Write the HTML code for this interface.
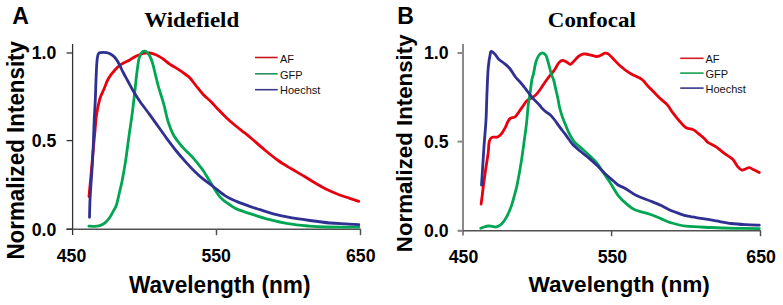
<!DOCTYPE html>
<html><head><meta charset="utf-8"><style>
html,body{margin:0;padding:0;background:#fff;}
body{width:783px;height:305px;overflow:hidden;}
svg{display:block;}
text{font-family:"Liberation Sans",sans-serif;fill:#000;}
.tick{font-weight:bold;font-size:17.7px;}
.axt{font-weight:bold;font-size:23px;}
.leg{font-size:11px;fill:#111;}
.title{font-family:"Liberation Serif",serif;font-weight:bold;font-size:22px;}
.let{font-weight:bold;font-size:23px;}
</style></head><body>
<svg width="783" height="305" viewBox="0 0 783 305">
<rect width="783" height="305" fill="#fff"/>
<line x1="72.6" y1="44" x2="72.6" y2="235" stroke="#333" stroke-width="1.3"/>
<line x1="66.5" y1="229.2" x2="360.8" y2="229.2" stroke="#505050" stroke-width="1.5"/>
<line x1="66.6" y1="53" x2="72.6" y2="53" stroke="#333" stroke-width="1.3"/>
<line x1="66.6" y1="140.6" x2="72.6" y2="140.6" stroke="#333" stroke-width="1.3"/>
<line x1="66.6" y1="229.2" x2="72.6" y2="229.2" stroke="#333" stroke-width="1.3"/>
<line x1="216.5" y1="229.2" x2="216.5" y2="235.2" stroke="#505050" stroke-width="1.5"/>
<line x1="360.5" y1="229.2" x2="360.5" y2="235.2" stroke="#505050" stroke-width="1.5"/>
<path d="M89.00,196.50 C89.33,192.92 90.30,182.75 91.00,175.00 C91.70,167.25 92.57,157.00 93.20,150.00 C93.83,143.00 94.25,138.83 94.80,133.00 C95.35,127.17 95.67,120.67 96.50,115.00 C97.33,109.33 98.55,103.33 99.80,99.00 C101.05,94.67 102.60,92.33 104.00,89.00 C105.40,85.67 106.38,82.17 108.20,79.00 C110.02,75.83 112.68,72.48 114.90,70.00 C117.12,67.52 119.02,65.78 121.50,64.10 C123.98,62.42 127.32,61.25 129.80,59.90 C132.28,58.55 134.18,57.07 136.40,56.00 C138.62,54.93 140.88,54.00 143.10,53.50 C145.32,53.00 147.48,52.75 149.70,53.00 C151.92,53.25 154.18,54.03 156.40,55.00 C158.62,55.97 160.78,57.28 163.00,58.80 C165.22,60.32 167.20,62.37 169.70,64.10 C172.20,65.83 175.23,67.38 178.00,69.20 C180.77,71.02 184.30,73.53 186.30,75.00 C188.30,76.47 188.28,76.08 190.00,78.00 C191.72,79.92 194.40,83.75 196.60,86.50 C198.80,89.25 200.83,92.00 203.20,94.50 C205.57,97.00 208.28,98.98 210.80,101.50 C213.32,104.02 215.67,106.87 218.30,109.60 C220.93,112.33 223.57,115.08 226.60,117.90 C229.63,120.72 233.47,123.98 236.50,126.50 C239.53,129.02 242.30,131.00 244.80,133.00 C247.30,135.00 248.17,135.67 251.50,138.50 C254.83,141.33 260.37,146.33 264.80,150.00 C269.23,153.67 273.68,157.37 278.10,160.50 C282.52,163.63 286.88,166.13 291.30,168.80 C295.72,171.47 300.48,174.05 304.60,176.50 C308.72,178.95 312.37,181.38 316.00,183.50 C319.63,185.62 322.45,187.28 326.40,189.20 C330.35,191.12 335.82,193.48 339.70,195.00 C343.58,196.52 346.52,197.23 349.70,198.30 C352.88,199.37 357.28,200.88 358.80,201.40" fill="none" stroke="#e8000f" stroke-width="2.8" stroke-linecap="round" stroke-linejoin="round"/>
<path d="M88.90,226.10 C89.87,226.15 92.90,226.48 94.70,226.40 C96.50,226.32 98.05,226.13 99.70,225.60 C101.35,225.07 102.97,224.50 104.60,223.20 C106.23,221.90 108.03,219.85 109.50,217.80 C110.97,215.75 112.25,213.03 113.40,210.90 C114.55,208.77 115.33,208.32 116.40,205.00 C117.47,201.68 118.82,195.17 119.80,191.00 C120.78,186.83 121.33,185.02 122.30,180.00 C123.27,174.98 124.48,168.23 125.60,160.90 C126.72,153.57 127.88,144.00 129.00,136.00 C130.12,128.00 131.30,120.57 132.30,112.90 C133.30,105.23 134.28,96.32 135.00,90.00 C135.72,83.68 135.95,80.17 136.60,75.00 C137.25,69.83 138.10,62.67 138.90,59.00 C139.70,55.33 140.55,54.30 141.40,53.00 C142.25,51.70 143.07,51.33 144.00,51.20 C144.93,51.07 146.00,51.32 147.00,52.20 C148.00,53.08 149.08,54.70 150.00,56.50 C150.92,58.30 151.72,60.48 152.50,63.00 C153.28,65.52 153.78,67.93 154.70,71.60 C155.62,75.27 156.95,81.10 158.00,85.00 C159.05,88.90 160.02,91.73 161.00,95.00 C161.98,98.27 162.73,100.23 163.90,104.60 C165.07,108.97 166.35,116.05 168.00,121.20 C169.65,126.35 171.30,131.10 173.80,135.50 C176.30,139.90 179.82,143.92 183.00,147.60 C186.18,151.28 189.80,154.13 192.90,157.60 C196.00,161.07 199.42,165.50 201.60,168.40 C203.78,171.30 204.33,172.37 206.00,175.00 C207.67,177.63 209.28,180.57 211.60,184.20 C213.92,187.83 217.17,193.58 219.90,196.80 C222.63,200.02 225.23,201.48 228.00,203.50 C230.77,205.52 232.32,207.03 236.50,208.90 C240.68,210.77 247.55,212.90 253.10,214.70 C258.65,216.50 263.98,218.20 269.80,219.70 C275.62,221.20 281.63,222.65 288.00,223.70 C294.37,224.75 301.83,225.45 308.00,226.00 C314.17,226.55 316.53,226.80 325.00,227.00 C333.47,227.20 353.17,227.17 358.80,227.20" fill="none" stroke="#00a651" stroke-width="2.8" stroke-linecap="round" stroke-linejoin="round"/>
<path d="M89.50,217.30 C89.58,214.42 89.75,205.55 90.00,200.00 C90.25,194.45 90.62,189.83 91.00,184.00 C91.38,178.17 91.92,171.50 92.30,165.00 C92.68,158.50 92.98,152.50 93.30,145.00 C93.62,137.50 93.87,127.50 94.20,120.00 C94.53,112.50 95.00,106.67 95.30,100.00 C95.60,93.33 95.73,86.33 96.00,80.00 C96.27,73.67 96.52,66.33 96.90,62.00 C97.28,57.67 97.62,55.57 98.30,54.00 C98.98,52.43 99.72,52.83 101.00,52.60 C102.28,52.37 104.50,52.42 106.00,52.60 C107.50,52.78 108.55,52.92 110.00,53.70 C111.45,54.48 113.25,55.70 114.70,57.30 C116.15,58.90 117.28,60.77 118.70,63.30 C120.12,65.83 121.63,69.47 123.20,72.50 C124.77,75.53 126.47,78.50 128.10,81.50 C129.73,84.50 131.05,87.20 133.00,90.50 C134.95,93.80 137.02,97.28 139.80,101.30 C142.58,105.32 146.67,110.45 149.70,114.60 C152.73,118.75 155.23,122.33 158.00,126.20 C160.77,130.07 163.25,133.67 166.30,137.80 C169.35,141.93 172.97,146.87 176.30,151.00 C179.63,155.13 183.18,159.15 186.30,162.60 C189.42,166.05 192.17,168.93 195.00,171.70 C197.83,174.47 200.28,176.73 203.30,179.20 C206.32,181.67 209.50,183.77 213.10,186.50 C216.70,189.23 221.00,193.12 224.90,195.60 C228.80,198.08 232.35,199.60 236.50,201.40 C240.65,203.20 245.88,205.02 249.80,206.40 C253.72,207.78 256.08,208.45 260.00,209.70 C263.92,210.95 268.60,212.65 273.30,213.90 C278.00,215.15 282.12,216.10 288.20,217.20 C294.28,218.30 302.87,219.53 309.80,220.50 C316.73,221.47 323.70,222.43 329.80,223.00 C335.90,223.57 341.57,223.62 346.40,223.90 C351.23,224.18 356.73,224.57 358.80,224.70" fill="none" stroke="#2e3192" stroke-width="2.8" stroke-linecap="round" stroke-linejoin="round"/>
<line x1="255" y1="57.5" x2="277.7" y2="57.5" stroke="#c8161e" stroke-width="1.6"/>
<line x1="255" y1="73.8" x2="277.7" y2="73.8" stroke="#26925a" stroke-width="1.6"/>
<line x1="255" y1="89.7" x2="277.7" y2="89.7" stroke="#3a3a88" stroke-width="1.6"/>
<text x="280" y="62.7" class="leg">AF</text>
<text x="280" y="78.7" class="leg">GFP</text>
<text x="280" y="94.3" class="leg">Hoechst</text>
<text x="56.3" y="58.7" class="tick" text-anchor="end">1.0</text>
<text x="56.3" y="146.9" class="tick" text-anchor="end">0.5</text>
<text x="56.3" y="235.5" class="tick" text-anchor="end">0.0</text>
<text x="71.5" y="261.5" class="tick" text-anchor="middle">450</text>
<text x="216.2" y="261.5" class="tick" text-anchor="middle">550</text>
<text x="360.8" y="261.5" class="tick" text-anchor="middle">650</text>
<text x="129" y="292.8" class="axt" style="font-size:23px" textLength="181.5" lengthAdjust="spacingAndGlyphs">Wavelength (nm)</text>
<text transform="translate(24.2,259.6) rotate(-90)" x="0" y="0" class="axt" style="font-size:23px" textLength="218.6" lengthAdjust="spacingAndGlyphs">Normalized Intensity</text>
<text x="144.2" y="27.4" class="title" textLength="95" lengthAdjust="spacingAndGlyphs">Widefield</text>
<text x="12.2" y="24" class="let">A</text>
<line x1="463" y1="44" x2="463" y2="235.5" stroke="#8a8a8a" stroke-width="2.0"/>
<line x1="458.3" y1="230.7" x2="760.8" y2="230.7" stroke="#505050" stroke-width="1.5"/>
<line x1="457.5" y1="53" x2="463" y2="53" stroke="#8a8a8a" stroke-width="2.0"/>
<line x1="457.5" y1="141.6" x2="463" y2="141.6" stroke="#8a8a8a" stroke-width="2.0"/>
<line x1="457.5" y1="230.7" x2="463" y2="230.7" stroke="#8a8a8a" stroke-width="2.0"/>
<line x1="611.6" y1="230.7" x2="611.6" y2="236.2" stroke="#505050" stroke-width="1.5"/>
<line x1="760.5" y1="230.7" x2="760.5" y2="236.2" stroke="#505050" stroke-width="1.5"/>
<path d="M481.10,204.00 C481.30,202.50 481.88,198.33 482.30,195.00 C482.72,191.67 483.03,188.30 483.60,184.00 C484.17,179.70 484.93,174.43 485.70,169.20 C486.47,163.97 487.65,156.97 488.20,152.60 C488.75,148.23 488.60,145.35 489.00,143.00 C489.40,140.65 489.85,139.48 490.60,138.50 C491.35,137.52 492.35,137.35 493.50,137.10 C494.65,136.85 496.12,137.63 497.50,137.00 C498.88,136.37 500.42,135.05 501.80,133.30 C503.18,131.55 504.82,128.38 505.80,126.50 C506.78,124.62 506.97,123.33 507.70,122.00 C508.43,120.67 509.08,119.30 510.20,118.50 C511.32,117.70 513.27,117.83 514.40,117.20 C515.53,116.57 516.23,115.62 517.00,114.70 C517.77,113.78 518.12,112.97 519.00,111.70 C519.88,110.43 521.10,108.82 522.30,107.10 C523.50,105.38 525.08,102.70 526.20,101.40 C527.32,100.10 528.03,99.92 529.00,99.30 C529.97,98.68 530.93,98.37 532.00,97.70 C533.07,97.03 534.28,96.33 535.40,95.30 C536.52,94.27 537.68,92.80 538.70,91.50 C539.72,90.20 540.37,89.17 541.50,87.50 C542.63,85.83 544.17,83.40 545.50,81.50 C546.83,79.60 548.15,77.82 549.50,76.10 C550.85,74.38 552.43,72.80 553.60,71.20 C554.77,69.60 555.60,67.93 556.50,66.50 C557.40,65.07 558.03,63.62 559.00,62.60 C559.97,61.58 561.20,60.60 562.30,60.40 C563.40,60.20 564.40,60.82 565.60,61.40 C566.80,61.98 568.60,63.45 569.50,63.90 C570.40,64.35 570.23,64.60 571.00,64.10 C571.77,63.60 572.80,62.22 574.10,60.90 C575.40,59.58 577.37,57.32 578.80,56.20 C580.23,55.08 581.50,54.57 582.70,54.20 C583.90,53.83 584.82,53.90 586.00,54.00 C587.18,54.10 588.07,54.38 589.80,54.80 C591.53,55.22 594.65,56.38 596.40,56.50 C598.15,56.62 598.88,56.05 600.30,55.50 C601.72,54.95 603.58,53.47 604.90,53.20 C606.22,52.93 606.78,52.93 608.20,53.90 C609.62,54.87 611.43,57.03 613.40,59.00 C615.37,60.97 617.27,63.33 620.00,65.70 C622.73,68.07 627.05,71.40 629.80,73.20 C632.55,75.00 634.42,75.40 636.50,76.50 C638.58,77.60 640.37,78.17 642.30,79.80 C644.23,81.43 646.32,84.38 648.10,86.30 C649.88,88.22 651.08,89.35 653.00,91.30 C654.92,93.25 657.25,95.78 659.60,98.00 C661.95,100.22 664.88,102.12 667.10,104.60 C669.32,107.08 670.82,110.13 672.90,112.90 C674.98,115.67 677.38,118.72 679.60,121.20 C681.82,123.68 683.98,126.42 686.20,127.80 C688.42,129.18 690.95,128.60 692.90,129.50 C694.85,130.40 695.97,131.65 697.90,133.20 C699.83,134.75 702.85,137.28 704.50,138.80 C706.15,140.32 705.87,140.97 707.80,142.30 C709.73,143.63 713.33,144.95 716.10,146.80 C718.87,148.65 721.63,151.32 724.40,153.40 C727.17,155.48 730.48,157.08 732.70,159.30 C734.92,161.52 736.17,164.90 737.70,166.70 C739.23,168.50 740.60,169.72 741.90,170.10 C743.20,170.48 744.27,169.42 745.50,169.00 C746.73,168.58 747.83,167.42 749.30,167.60 C750.77,167.78 752.63,169.28 754.30,170.10 C755.97,170.92 758.47,172.10 759.30,172.50" fill="none" stroke="#e8000f" stroke-width="2.8" stroke-linecap="round" stroke-linejoin="round"/>
<path d="M480.70,228.30 C481.25,228.08 482.75,227.38 484.00,227.00 C485.25,226.62 486.87,226.12 488.20,226.00 C489.53,225.88 490.62,226.15 492.00,226.30 C493.38,226.45 494.92,227.28 496.50,226.90 C498.08,226.52 499.83,225.62 501.50,224.00 C503.17,222.38 504.83,220.27 506.50,217.20 C508.17,214.13 510.12,209.47 511.50,205.60 C512.88,201.73 513.83,197.60 514.80,194.00 C515.77,190.40 516.20,189.52 517.30,184.00 C518.40,178.48 520.22,168.32 521.40,160.90 C522.58,153.48 523.55,145.70 524.40,139.50 C525.25,133.30 525.97,128.33 526.50,123.70 C527.03,119.07 527.32,114.80 527.60,111.70 C527.88,108.60 527.93,107.28 528.20,105.10 C528.47,102.92 528.83,100.95 529.20,98.60 C529.57,96.25 529.97,94.10 530.40,91.00 C530.83,87.90 531.28,82.87 531.80,80.00 C532.32,77.13 532.82,76.80 533.50,73.80 C534.18,70.80 534.97,65.13 535.90,62.00 C536.83,58.87 537.98,56.50 539.10,55.00 C540.22,53.50 541.45,52.92 542.60,53.00 C543.75,53.08 545.08,54.00 546.00,55.50 C546.92,57.00 547.22,58.95 548.10,62.00 C548.98,65.05 550.35,70.72 551.30,73.80 C552.25,76.88 553.08,78.05 553.80,80.50 C554.52,82.95 554.90,85.42 555.60,88.50 C556.30,91.58 557.33,95.83 558.00,99.00 C558.67,102.17 558.90,104.60 559.60,107.50 C560.30,110.40 561.15,113.35 562.20,116.40 C563.25,119.45 564.68,122.87 565.90,125.80 C567.12,128.73 568.08,131.30 569.50,134.00 C570.92,136.70 572.22,139.45 574.40,142.00 C576.58,144.55 580.00,146.97 582.60,149.30 C585.20,151.63 587.67,153.78 590.00,156.00 C592.33,158.22 594.67,160.25 596.60,162.60 C598.53,164.95 599.93,167.62 601.60,170.10 C603.27,172.58 604.93,175.02 606.60,177.50 C608.27,179.98 609.67,181.98 611.60,185.00 C613.53,188.02 615.72,192.45 618.20,195.60 C620.68,198.75 623.73,201.55 626.50,203.90 C629.27,206.25 630.65,207.90 634.80,209.70 C638.95,211.50 646.98,213.17 651.40,214.70 C655.82,216.23 658.27,217.63 661.30,218.90 C664.33,220.17 665.45,221.08 669.60,222.30 C673.75,223.52 679.28,225.33 686.20,226.20 C693.12,227.07 702.78,227.15 711.10,227.50 C719.42,227.85 728.07,228.10 736.10,228.30 C744.13,228.50 755.43,228.63 759.30,228.70" fill="none" stroke="#00a651" stroke-width="2.8" stroke-linecap="round" stroke-linejoin="round"/>
<path d="M481.50,185.00 C481.67,182.50 482.07,176.67 482.50,170.00 C482.93,163.33 483.52,153.33 484.10,145.00 C484.68,136.67 485.53,128.33 486.00,120.00 C486.47,111.67 486.53,103.63 486.90,95.00 C487.27,86.37 487.62,75.15 488.20,68.20 C488.78,61.25 489.77,56.05 490.40,53.30 C491.03,50.55 491.18,51.48 492.00,51.70 C492.82,51.92 494.13,53.30 495.30,54.60 C496.47,55.90 497.42,57.97 499.00,59.50 C500.58,61.03 503.00,62.30 504.80,63.80 C506.60,65.30 508.02,66.30 509.80,68.50 C511.58,70.70 513.72,74.67 515.50,77.00 C517.28,79.33 519.00,80.75 520.50,82.50 C522.00,84.25 523.32,86.00 524.50,87.50 C525.68,89.00 526.22,89.72 527.60,91.50 C528.98,93.28 530.83,95.95 532.80,98.20 C534.77,100.45 537.78,103.23 539.40,105.00 C541.02,106.77 541.40,107.65 542.50,108.80 C543.60,109.95 544.73,110.90 546.00,111.90 C547.27,112.90 548.72,113.53 550.10,114.80 C551.48,116.07 552.72,117.48 554.30,119.50 C555.88,121.52 557.85,124.53 559.60,126.90 C561.35,129.27 563.23,131.60 564.80,133.70 C566.37,135.80 567.67,137.72 569.00,139.50 C570.33,141.28 570.80,142.35 572.80,144.40 C574.80,146.45 578.27,149.47 581.00,151.80 C583.73,154.13 586.60,156.18 589.20,158.40 C591.80,160.62 593.98,162.60 596.60,165.10 C599.22,167.60 602.13,170.78 604.90,173.40 C607.67,176.02 611.02,178.87 613.20,180.80 C615.38,182.73 616.05,183.77 618.00,185.00 C619.95,186.23 621.82,186.43 624.90,188.20 C627.98,189.97 632.08,193.40 636.50,195.60 C640.92,197.80 647.27,199.73 651.40,201.40 C655.53,203.07 658.27,204.17 661.30,205.60 C664.33,207.03 666.83,208.75 669.60,210.00 C672.37,211.25 674.85,212.07 677.90,213.10 C680.95,214.13 683.75,215.28 687.90,216.20 C692.05,217.12 698.10,217.82 702.80,218.60 C707.50,219.38 711.38,220.08 716.10,220.90 C720.82,221.72 726.12,222.87 731.10,223.50 C736.08,224.13 741.30,224.42 746.00,224.70 C750.70,224.98 757.08,225.12 759.30,225.20" fill="none" stroke="#2e3192" stroke-width="2.8" stroke-linecap="round" stroke-linejoin="round"/>
<line x1="680.2" y1="58.3" x2="703.6" y2="58.3" stroke="#d41c22" stroke-width="1.6"/>
<line x1="680.2" y1="73.1" x2="703.6" y2="73.1" stroke="#16a04e" stroke-width="1.6"/>
<line x1="680.2" y1="88.1" x2="703.6" y2="88.1" stroke="#35358e" stroke-width="1.6"/>
<text x="705.5" y="62.8" class="leg">AF</text>
<text x="705.5" y="78" class="leg">GFP</text>
<text x="705.5" y="92.6" class="leg">Hoechst</text>
<text x="448.6" y="59.3" class="tick" text-anchor="end">1.0</text>
<text x="448.6" y="147.9" class="tick" text-anchor="end">0.5</text>
<text x="448.6" y="237" class="tick" text-anchor="end">0.0</text>
<text x="463.5" y="263" class="tick" text-anchor="middle">450</text>
<text x="612.4" y="263" class="tick" text-anchor="middle">550</text>
<text x="761.1" y="263" class="tick" text-anchor="middle">650</text>
<text x="528.4" y="292.3" class="axt" style="font-size:22px" textLength="181.5" lengthAdjust="spacingAndGlyphs">Wavelength (nm)</text>
<text transform="translate(412.1,252.2) rotate(-90)" x="0" y="0" class="axt" style="font-size:22.8px" textLength="217.8" lengthAdjust="spacingAndGlyphs">Normalized Intensity</text>
<text x="547.8" y="27.4" class="title" textLength="88" lengthAdjust="spacingAndGlyphs">Confocal</text>
<text x="397.2" y="24" class="let">B</text>
</svg>
</body></html>
